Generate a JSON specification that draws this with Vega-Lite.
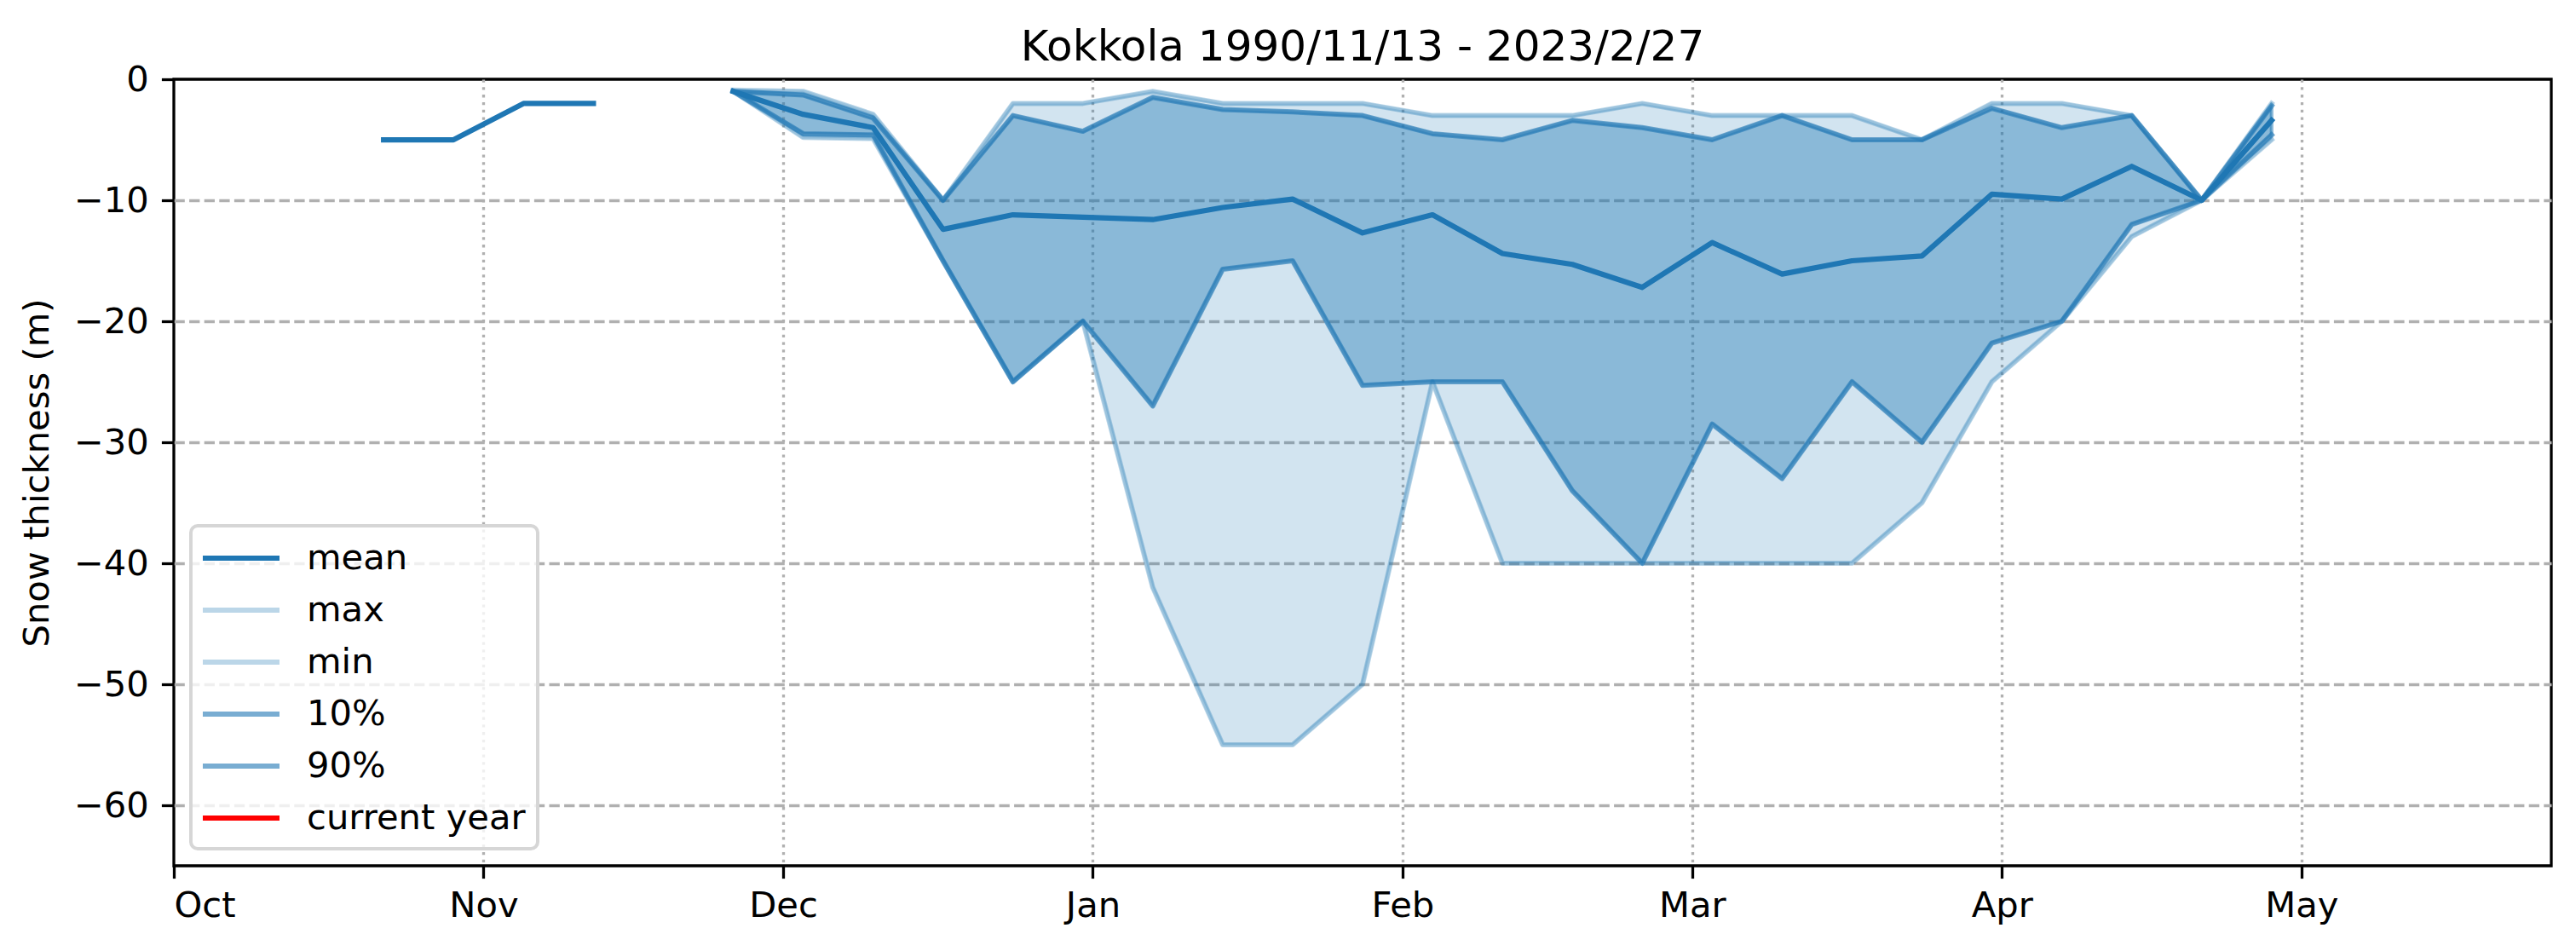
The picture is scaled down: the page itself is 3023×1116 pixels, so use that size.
{
  "$schema": "https://vega.github.io/schema/vega-lite/v6.json",
  "width": 2790,
  "height": 923,
  "autosize": {"type": "none"},
  "padding": {"left": 204, "top": 93, "right": 29, "bottom": 100},
  "background": "white",
  "title": {"text": "Kokkola 1990/11/13 - 2023/2/27", "font": "DejaVu Sans", "fontSize": 50, "fontWeight": "normal", "color": "black", "anchor": "middle", "baseline": "bottom", "offset": 0, "dy": 58},
  "datasets": {
    "snow": [
      {"date": "1999-10-22", "mean": -5, "max": null, "min": null, "10%": null, "90%": null},
      {"date": "1999-10-29", "mean": -5, "max": null, "min": null, "10%": null, "90%": null},
      {"date": "1999-11-05", "mean": -2, "max": null, "min": null, "10%": null, "90%": null},
      {"date": "1999-11-12", "mean": -2, "max": null, "min": null, "10%": null, "90%": null},
      {"date": "1999-11-19", "mean": null, "max": null, "min": null, "10%": null, "90%": null},
      {"date": "1999-11-26", "mean": -1, "max": -0.9, "min": -1, "10%": -1, "90%": -1},
      {"date": "1999-12-03", "mean": -2.9, "max": -1, "min": -4.8, "10%": -4.5, "90%": -1.3},
      {"date": "1999-12-10", "mean": -4, "max": -2.9, "min": -4.9, "10%": -4.6, "90%": -3.2},
      {"date": "1999-12-17", "mean": -12.4, "max": -10, "min": -15, "10%": -15, "90%": -10},
      {"date": "1999-12-24", "mean": -11.2, "max": -2, "min": -25, "10%": -25, "90%": -3},
      {"date": "1999-12-31", "mean": -11.4, "max": -2, "min": -20, "10%": -20, "90%": -4.3},
      {"date": "2000-01-07", "mean": -11.6, "max": -1, "min": -42, "10%": -27, "90%": -1.5},
      {"date": "2000-01-14", "mean": -10.6, "max": -2, "min": -55, "10%": -15.7, "90%": -2.5},
      {"date": "2000-01-21", "mean": -9.9, "max": -2, "min": -55, "10%": -15, "90%": -2.7},
      {"date": "2000-01-28", "mean": -12.7, "max": -2, "min": -50, "10%": -25.3, "90%": -3},
      {"date": "2000-02-04", "mean": -11.2, "max": -3, "min": -25, "10%": -25, "90%": -4.5},
      {"date": "2000-02-11", "mean": -14.4, "max": -3, "min": -40, "10%": -25, "90%": -5},
      {"date": "2000-02-18", "mean": -15.3, "max": -3, "min": -40, "10%": -34, "90%": -3.4},
      {"date": "2000-02-25", "mean": -17.2, "max": -2, "min": -40, "10%": -40, "90%": -4},
      {"date": "2000-03-03", "mean": -13.5, "max": -3, "min": -40, "10%": -28.5, "90%": -5},
      {"date": "2000-03-10", "mean": -16.1, "max": -3, "min": -40, "10%": -33, "90%": -3},
      {"date": "2000-03-17", "mean": -15, "max": -3, "min": -40, "10%": -25, "90%": -5},
      {"date": "2000-03-24", "mean": -14.6, "max": -5, "min": -35, "10%": -30, "90%": -5},
      {"date": "2000-03-31", "mean": -9.5, "max": -2, "min": -25, "10%": -21.8, "90%": -2.4},
      {"date": "2000-04-07", "mean": -9.9, "max": -2, "min": -20, "10%": -20, "90%": -4},
      {"date": "2000-04-14", "mean": -7.2, "max": -3, "min": -13, "10%": -12, "90%": -3},
      {"date": "2000-04-21", "mean": -10, "max": -10, "min": -10, "10%": -10, "90%": -10},
      {"date": "2000-04-28", "mean": -3.4, "max": -2, "min": -5, "10%": -4.6, "90%": -2.2}
    ]
  },
  "data": {"name": "snow"},
  "encoding": {
    "x": {
      "field": "date",
      "type": "temporal",
      "scale": {"type": "utc", "domain": [{"year": 1999, "month": 10, "date": 1, "utc": true}, {"year": 2000, "month": 5, "date": 26, "utc": true}]},
      "axis": {
        "title": null,
        "values": [
          {"year": 1999, "month": 10, "date": 1, "utc": true},
          {"year": 1999, "month": 11, "date": 1, "utc": true},
          {"year": 1999, "month": 12, "date": 1, "utc": true},
          {"year": 2000, "month": 1, "date": 1, "utc": true},
          {"year": 2000, "month": 2, "date": 1, "utc": true},
          {"year": 2000, "month": 3, "date": 1, "utc": true},
          {"year": 2000, "month": 4, "date": 1, "utc": true},
          {"year": 2000, "month": 5, "date": 1, "utc": true}
        ],
        "labelExpr": "utcFormat(datum.value, '%b')",
        "gridDash": [3.3, 5.5],
        "gridOpacity": {"condition": {"test": "utcFormat(datum.value, '%b') == 'Oct'", "value": 0}, "value": 1},
        "labelPadding": 12
      }
    }
  },
  "layer": [
    {
      "mark": {"type": "area", "fill": "#1f77b4", "fillOpacity": 0.2, "stroke": "#1f77b4", "strokeOpacity": 0.2, "strokeWidth": 4.2, "strokeJoin": "round", "invalid": "break-paths-filter-domains"},
      "encoding": {
        "y": {"field": "min", "type": "quantitative", "scale": {"domain": [-65, 0], "nice": false, "zero": false},
          "axis": {"title": "Snow thickness (m)", "values": [0, -10, -20, -30, -40, -50, -60], "labelExpr": "datum.value < 0 ? '\u2212' + (-datum.value) : '' + datum.value", "gridDash": [12.3, 5.3], "gridOpacity": {"condition": {"test": "datum.value == 0", "value": 0}, "value": 1}, "labelPadding": 15, "titlePadding": 21}},
        "y2": {"field": "max"}
      }
    },
    {
      "mark": {"type": "area", "fill": "#1f77b4", "fillOpacity": 0.4, "stroke": "#1f77b4", "strokeOpacity": 0.4, "strokeWidth": 4.2, "strokeJoin": "round", "invalid": "break-paths-filter-domains"},
      "encoding": {
        "y": {"field": "10%", "type": "quantitative", "title": "Snow thickness (m)"},
        "y2": {"field": "90%"}
      }
    },
    {
      "transform": [{"fold": ["max", "min", "10%", "90%"], "as": ["key", "value"]}],
      "mark": {"type": "line", "strokeWidth": 6, "strokeCap": "square", "strokeJoin": "round", "invalid": "break-paths-filter-domains"},
      "encoding": {
        "y": {"field": "value", "type": "quantitative", "title": "Snow thickness (m)"},
        "color": {
          "field": "key", "type": "nominal",
          "scale": {"domain": ["mean", "max", "min", "10%", "90%", "current year"], "range": ["#1f77b4", "rgba(31,119,180,0.3)", "rgba(31,119,180,0.3)", "rgba(31,119,180,0.6)", "rgba(31,119,180,0.6)", "#ff0000"]},
          "legend": {"title": null, "orient": "bottom-left", "offset": 20, "padding": 14, "rowPadding": 15, "symbolType": "M-1.143,0L3.143,0", "symbolSize": 1764, "symbolStrokeWidth": 6, "labelOffset": 74, "labelFontSize": 41.7, "labelFont": "DejaVu Sans", "labelLimit": 0, "labelColor": "black", "strokeColor": "#d6d6d6", "fillColor": "rgba(255,255,255,0.8)", "cornerRadius": 8, "zindex": 2}
        }
      }
    },
    {
      "transform": [{"fold": ["mean"], "as": ["key", "value"]}],
      "mark": {"type": "line", "strokeWidth": 6.25, "strokeCap": "square", "strokeJoin": "round", "invalid": "break-paths-filter-domains"},
      "encoding": {
        "y": {"field": "value", "type": "quantitative", "title": "Snow thickness (m)"},
        "color": {
          "field": "key", "type": "nominal",
          "scale": {"domain": ["mean", "max", "min", "10%", "90%", "current year"], "range": ["#1f77b4", "rgba(31,119,180,0.3)", "rgba(31,119,180,0.3)", "rgba(31,119,180,0.6)", "rgba(31,119,180,0.6)", "#ff0000"]},
          "legend": {"title": null, "orient": "bottom-left", "offset": 20, "padding": 14, "rowPadding": 15, "symbolType": "M-1.143,0L3.143,0", "symbolSize": 1764, "symbolStrokeWidth": 6, "labelOffset": 74, "labelFontSize": 41.7, "labelFont": "DejaVu Sans", "labelLimit": 0, "labelColor": "black", "strokeColor": "#d6d6d6", "fillColor": "rgba(255,255,255,0.8)", "cornerRadius": 8, "zindex": 2}
        }
      }
    }
  ],
  "config": {
    "view": {"stroke": "black", "strokeWidth": 3.3},
    "font": "DejaVu Sans",
    "axis": {
      "labelFont": "DejaVu Sans", "labelFontSize": 41.7, "labelColor": "black",
      "titleFont": "DejaVu Sans", "titleFontSize": 41.7, "titleFontWeight": "normal", "titleColor": "black",
      "tickColor": "black", "tickWidth": 3.3, "tickSize": 14.6,
      "domain": false, "grid": true, "gridColor": "#b0b0b0", "gridWidth": 3.3, "zindex": 1
    },
    "legend": {"strokeWidth": 4}
  }
}
